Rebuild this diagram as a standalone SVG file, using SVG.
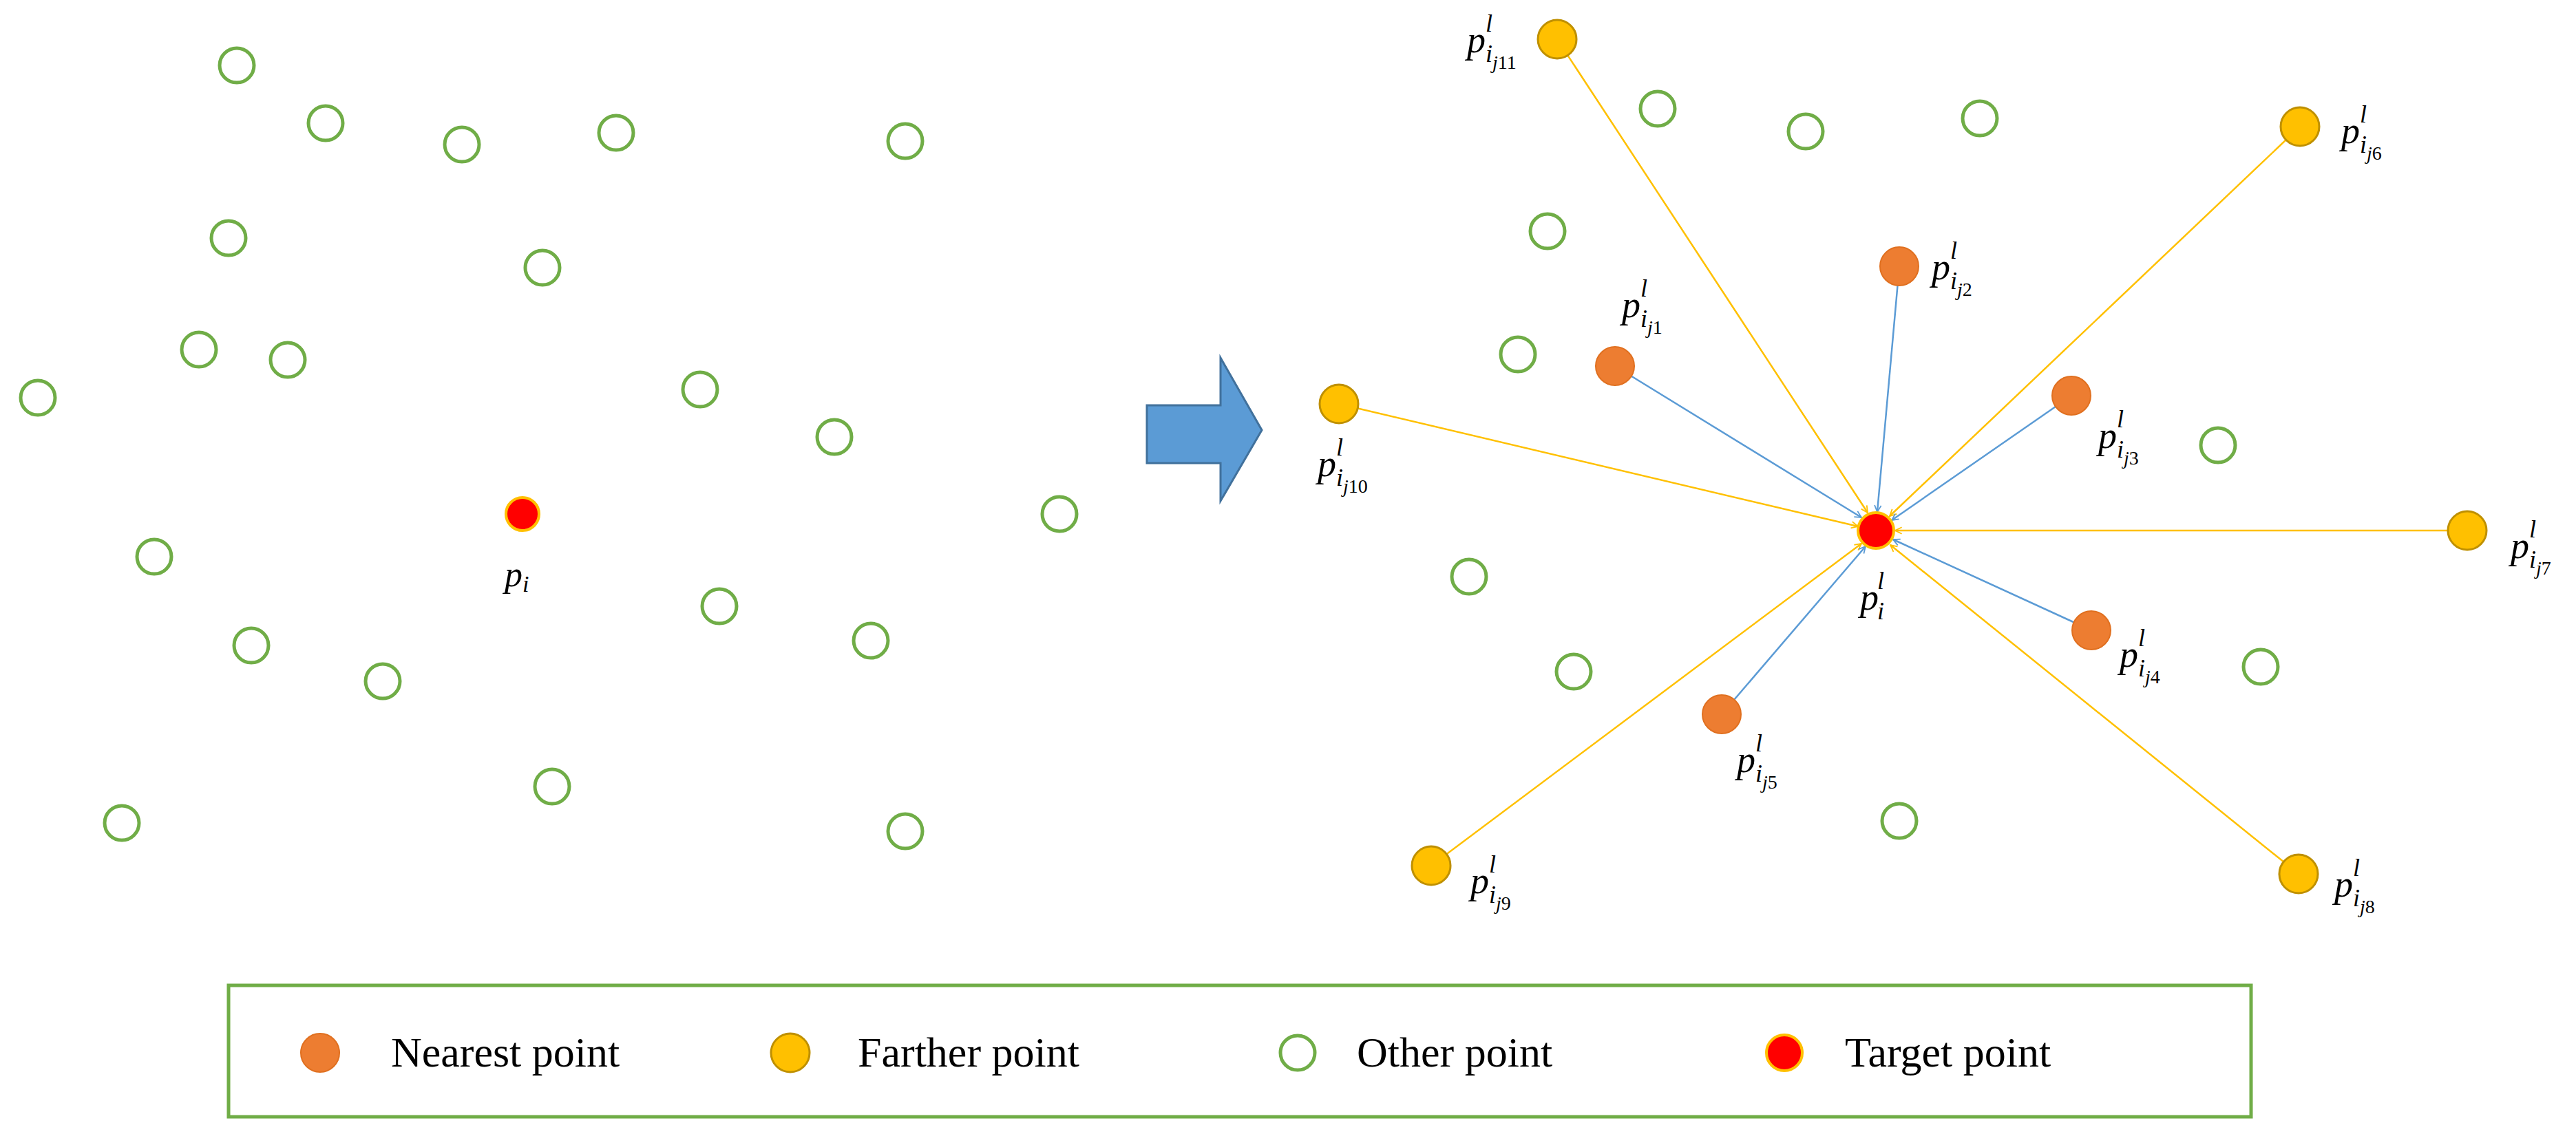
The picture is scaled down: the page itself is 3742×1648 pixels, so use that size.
<svg xmlns="http://www.w3.org/2000/svg" width="3742" height="1648" viewBox="0 0 3742 1648">
<style>
.o{fill:none;stroke:#70AD47;stroke-width:5}
.n{fill:#ED7D31;stroke:#E07020;stroke-width:2}
.f{fill:#FFC000;stroke:#BF9000;stroke-width:3}
.t{fill:#FF0000;stroke:#FFC000;stroke-width:4}
.lb{font-family:"Liberation Serif",serif;font-style:italic;fill:#000}
.y{stroke:#FFC000;stroke-width:2.5;fill:none}
.b{stroke:#5B9BD5;stroke-width:2.5;fill:none}
.lg{font-family:"Liberation Serif",serif;font-size:62px;fill:#000}
</style>
<defs>
<marker id="ay" viewBox="0 0 20 20" refX="18" refY="10" markerWidth="12" markerHeight="12" markerUnits="userSpaceOnUse" orient="auto"><path d="M2,2 L18,10 L2,18" fill="none" stroke="#FFC000" stroke-width="3"/></marker>
<marker id="ab" viewBox="0 0 20 20" refX="18" refY="10" markerWidth="12" markerHeight="12" markerUnits="userSpaceOnUse" orient="auto"><path d="M2,2 L18,10 L2,18" fill="none" stroke="#5B9BD5" stroke-width="3"/></marker>
<g id="lab">
</g>
</defs>
<g id="left-points">
<circle class="o" cx="344" cy="95" r="25"/><circle class="o" cx="473" cy="179" r="25"/><circle class="o" cx="671" cy="210" r="25"/><circle class="o" cx="895" cy="193" r="25"/><circle class="o" cx="1315" cy="205" r="25"/><circle class="o" cx="332" cy="346" r="25"/><circle class="o" cx="788" cy="389" r="25"/><circle class="o" cx="289" cy="508" r="25"/><circle class="o" cx="418" cy="523" r="25"/><circle class="o" cx="55" cy="578" r="25"/><circle class="o" cx="1017" cy="566" r="25"/><circle class="o" cx="1212" cy="635" r="25"/><circle class="o" cx="1539" cy="747" r="25"/><circle class="o" cx="224" cy="809" r="25"/><circle class="o" cx="1045" cy="881" r="25"/><circle class="o" cx="1265" cy="931" r="25"/><circle class="o" cx="365" cy="938" r="25"/><circle class="o" cx="556" cy="990" r="25"/><circle class="o" cx="802" cy="1143" r="25"/><circle class="o" cx="177" cy="1196" r="25"/><circle class="o" cx="1315" cy="1208" r="25"/>
</g>
<g id="left-target"><circle class="t" cx="759" cy="747" r="24"/><text class="lb" x="733" y="852" font-size="52">p<tspan font-size="34" dy="8">i</tspan></text></g>
<g id="big-arrow"><path d="M1666,589 H1773 V520 L1833,625 L1773,728 V673 H1666 Z" fill="#5B9BD5" stroke="#41719C" stroke-width="3"/></g>
<g id="connectors">
<line class="y" x1="2262" y1="57" x2="2713" y2="745" marker-end="url(#ay)"/>
<line class="y" x1="3341" y1="184" x2="2745" y2="750" marker-end="url(#ay)"/>
<line class="y" x1="1945" y1="587" x2="2699" y2="765" marker-end="url(#ay)"/>
<line class="y" x1="3584" y1="771" x2="2753" y2="771" marker-end="url(#ay)" stroke-width="4"/>
<line class="y" x1="2079" y1="1258" x2="2704" y2="790" marker-end="url(#ay)" stroke-width="5"/>
<line class="y" x1="3339" y1="1270" x2="2746" y2="792" marker-end="url(#ay)"/>
<line class="b" x1="2346" y1="532" x2="2704" y2="752" marker-end="url(#ab)"/>
<line class="b" x1="2759" y1="387" x2="2727" y2="744" marker-end="url(#ab)"/>
<line class="b" x1="3009" y1="575" x2="2748" y2="756" marker-end="url(#ab)"/>
<line class="b" x1="3038" y1="916" x2="2750" y2="784" marker-end="url(#ab)"/>
<line class="b" x1="2501" y1="1038" x2="2710" y2="794" marker-end="url(#ab)"/>
</g>
<g id="right-others">
<circle class="o" cx="2408" cy="158" r="25"/><circle class="o" cx="2623" cy="191" r="25"/><circle class="o" cx="2876" cy="172" r="25"/><circle class="o" cx="2248" cy="336" r="25"/><circle class="o" cx="2205" cy="515" r="25"/><circle class="o" cx="3222" cy="647" r="25"/><circle class="o" cx="2134" cy="838" r="25"/><circle class="o" cx="2286" cy="976" r="25"/><circle class="o" cx="3284" cy="969" r="25"/><circle class="o" cx="2759" cy="1193" r="25"/>
</g>
<g id="target"><circle class="t" cx="2725" cy="771" r="26"/><text class="lb" x="2702" y="886" font-size="54">p<tspan font-size="36" dx="-2" dy="-30">l</tspan><tspan font-size="36" dx="-10" dy="44">i</tspan></text></g>
<g id="j1"><circle class="n" cx="2346" cy="532" r="28"/><text class="lb" x="2356" y="461" font-size="54">p<tspan font-size="36" dy="-30">l</tspan><tspan font-size="36" dx="-10" dy="44">i</tspan><tspan font-size="28" dy="10">j</tspan><tspan font-size="28" font-style="normal">1</tspan></text></g>
<g id="j2"><circle class="n" cx="2759" cy="387" r="28"/><text class="lb" x="2806" y="406" font-size="54">p<tspan font-size="36" dy="-30">l</tspan><tspan font-size="36" dx="-10" dy="44">i</tspan><tspan font-size="28" dy="10">j</tspan><tspan font-size="28" font-style="normal">2</tspan></text></g>
<g id="j3"><circle class="n" cx="3009" cy="575" r="28"/><text class="lb" x="3048" y="651" font-size="54">p<tspan font-size="36" dy="-30">l</tspan><tspan font-size="36" dx="-10" dy="44">i</tspan><tspan font-size="28" dy="10">j</tspan><tspan font-size="28" font-style="normal">3</tspan></text></g>
<g id="j4"><circle class="n" cx="3038" cy="916" r="28"/><text class="lb" x="3079" y="969" font-size="54">p<tspan font-size="36" dy="-30">l</tspan><tspan font-size="36" dx="-10" dy="44">i</tspan><tspan font-size="28" dy="10">j</tspan><tspan font-size="28" font-style="normal">4</tspan></text></g>
<g id="j5"><circle class="n" cx="2501" cy="1038" r="28"/><text class="lb" x="2523" y="1122" font-size="54">p<tspan font-size="36" dy="-30">l</tspan><tspan font-size="36" dx="-10" dy="44">i</tspan><tspan font-size="28" dy="10">j</tspan><tspan font-size="28" font-style="normal">5</tspan></text></g>
<g id="j6"><circle class="f" cx="3341" cy="184" r="28"/><text class="lb" x="3401" y="208" font-size="54">p<tspan font-size="36" dy="-30">l</tspan><tspan font-size="36" dx="-10" dy="44">i</tspan><tspan font-size="28" dy="10">j</tspan><tspan font-size="28" font-style="normal">6</tspan></text></g>
<g id="j7"><circle class="f" cx="3584" cy="771" r="28"/><text class="lb" x="3647" y="811" font-size="54">p<tspan font-size="36" dy="-30">l</tspan><tspan font-size="36" dx="-10" dy="44">i</tspan><tspan font-size="28" dy="10">j</tspan><tspan font-size="28" font-style="normal">7</tspan></text></g>
<g id="j8"><circle class="f" cx="3339" cy="1270" r="28"/><text class="lb" x="3391" y="1303" font-size="54">p<tspan font-size="36" dy="-30">l</tspan><tspan font-size="36" dx="-10" dy="44">i</tspan><tspan font-size="28" dy="10">j</tspan><tspan font-size="28" font-style="normal">8</tspan></text></g>
<g id="j9"><circle class="f" cx="2079" cy="1258" r="28"/><text class="lb" x="2136" y="1298" font-size="54">p<tspan font-size="36" dy="-30">l</tspan><tspan font-size="36" dx="-10" dy="44">i</tspan><tspan font-size="28" dy="10">j</tspan><tspan font-size="28" font-style="normal">9</tspan></text></g>
<g id="j10"><circle class="f" cx="1945" cy="587" r="28"/><text class="lb" x="1914" y="692" font-size="54">p<tspan font-size="36" dy="-30">l</tspan><tspan font-size="36" dx="-10" dy="44">i</tspan><tspan font-size="28" dy="10">j</tspan><tspan font-size="28" font-style="normal">10</tspan></text></g>
<g id="j11"><circle class="f" cx="2262" cy="57" r="28"/><text class="lb" x="2131" y="76" font-size="54">p<tspan font-size="36" dy="-30">l</tspan><tspan font-size="36" dx="-10" dy="44">i</tspan><tspan font-size="28" dy="10">j</tspan><tspan font-size="28" font-style="normal">11</tspan></text></g>
<g id="legend">
<rect x="332" y="1432" width="2938" height="191" fill="#fff" stroke="#70AD47" stroke-width="5"/>
<circle class="n" cx="465" cy="1530" r="28"/><text class="lg" x="568" y="1550">Nearest point</text>
<circle class="f" cx="1148" cy="1530" r="28"/><text class="lg" x="1246" y="1550">Farther point</text>
<circle class="o" cx="1885" cy="1530" r="25"/><text class="lg" x="1971" y="1550">Other point</text>
<circle class="t" cx="2592" cy="1530" r="26"/><text class="lg" x="2680" y="1550">Target point</text>
</g>
</svg>
